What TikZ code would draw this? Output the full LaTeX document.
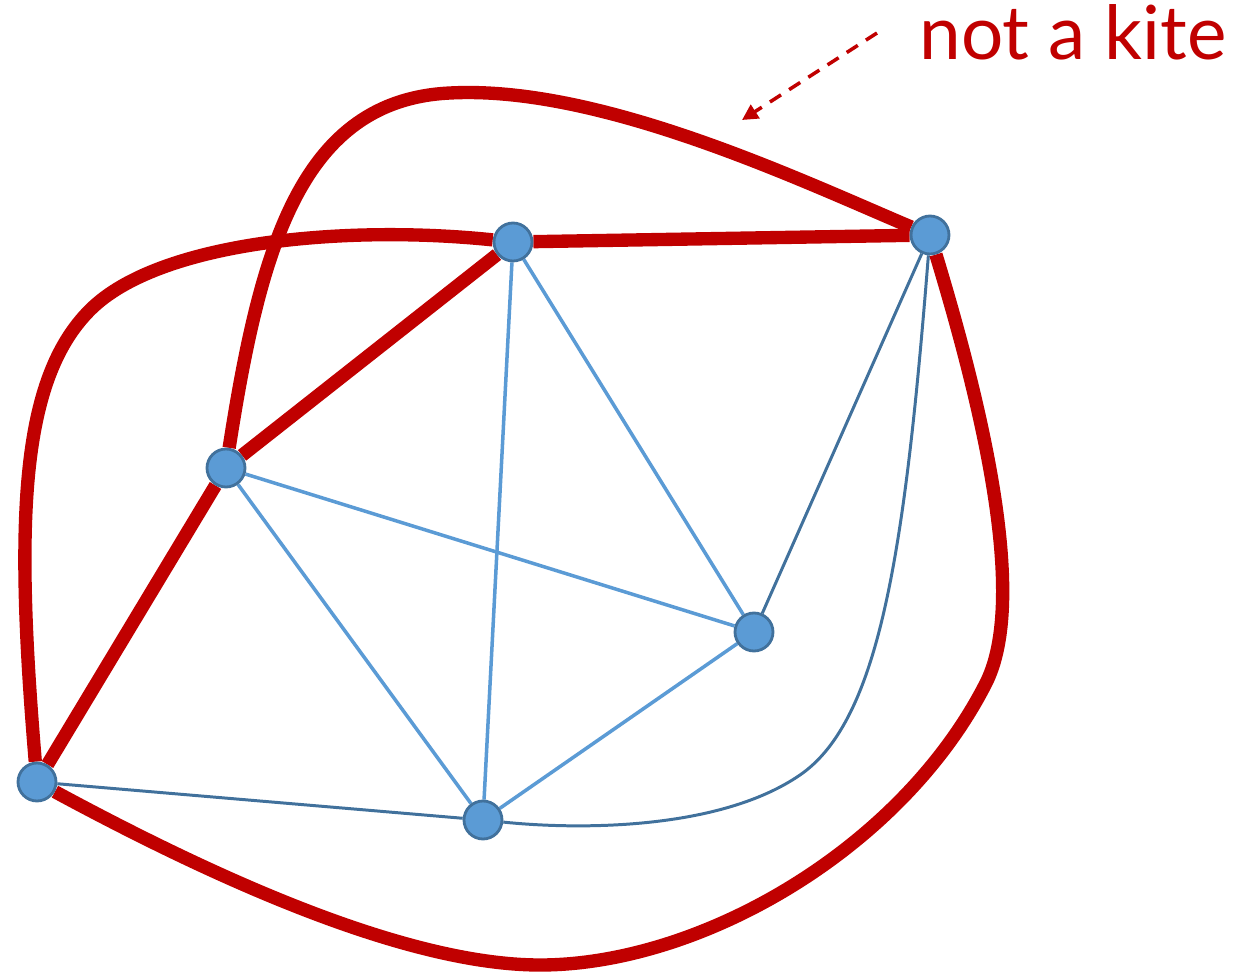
\documentclass[tikz,border=0pt]{standalone}
\usepackage{fontspec}
\setmainfont{Lato}
\usetikzlibrary{arrows.meta}
\definecolor{kred}{HTML}{C00000}
\definecolor{vfill}{HTML}{5B9BD5}
\definecolor{vline}{HTML}{41719C}
\tikzstyle{vx}=[shape=circle, minimum size=0.76cm, inner sep=0, fill=vfill, draw=vline, line width=1.6pt]
\tikzstyle{thick red}=[draw=kred, line width=7.6pt]
\tikzstyle{thin light}=[draw=vfill, line width=2pt]
\tikzstyle{thin dark}=[draw=vline, line width=1.7pt]
\pgfdeclarelayer{back}
\pgfsetlayers{back,main}

\begin{document}
\begin{tikzpicture}[x=0.02cm, y=-0.02cm]
\useasboundingbox (0,0) rectangle (1258,973);
\node at (513,242)[vx](0){};
\node at (930,235)[vx](1){};
\node at (226,468)[vx](2){};
\node at (754,632)[vx](3){};
\node at (37,782)[vx](4){};
\node at (483,820)[vx](5){};
\begin{pgfonlayer}{back}
\draw[thin light] (0)--(5);
\draw[thin light] (0)--(3);
\draw[thin light] (2)--(3);
\draw[thin light] (2)--(5);
\draw[thin light] (3)--(5);
\draw[thin dark] (1)--(3);
\draw[thin dark] (4)--(5);
\draw[thin dark] (1) .. controls (905,550) and (880,720) .. (800,775) .. controls (720,830) and (580,830) .. (5);
\draw[thick red] (0)--(1);
\draw[thick red] (0)--(2);
\draw[thick red] (2)--(4);
\draw[thick red] (4) .. controls (15,520) and (20,380) .. (90,310) .. controls (160,240) and (350,225) .. (0);
\draw[thick red] (2) .. controls (260,250) and (300,100) .. (450,93) .. controls (600,85) and (800,180) .. (1);
\draw[thick red] (1) .. controls (980,400) and (1030,600) .. (985,685) .. controls (900,850) and (700,965) .. (540,965) .. controls (400,965) and (200,870) .. (4);
\end{pgfonlayer}
% label
\node at (919,60)[anchor=base west, inner sep=0, text=kred, font=\fontsize{42.5}{50}\selectfont](label){not a kite};
\coordinate (tip) at (742,120);
\draw[kred, line width=2pt, dash pattern=on 7.5pt off 5.5pt, -{Triangle[length=9pt, width=9pt]}] (877,33)--(tip);
\end{tikzpicture}
\end{document}
